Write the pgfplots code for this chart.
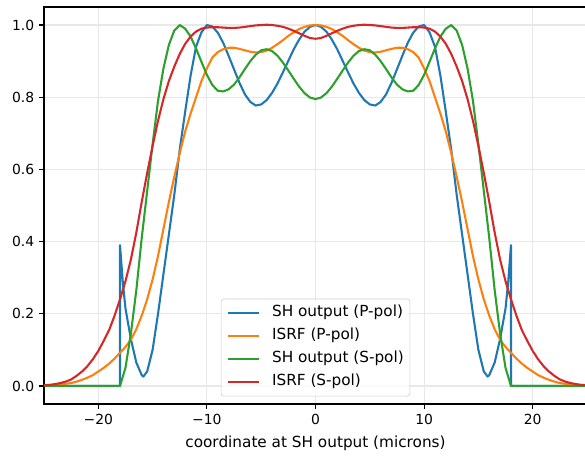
\documentclass[border=0pt]{standalone}
\usepackage{fontspec}
\setmainfont{DejaVu Sans}
\usepackage{pgfplots}
\pgfplotsset{compat=1.18}
\definecolor{tabblue}{HTML}{1F77B4}
\definecolor{taborange}{HTML}{FF7F0E}
\definecolor{tabgreen}{HTML}{2CA02C}
\definecolor{tabred}{HTML}{D62728}
\definecolor{gridgray}{HTML}{E8E8E8}
\definecolor{leggray}{HTML}{CCCCCC}
\begin{document}
\begin{tikzpicture}
\begin{axis}[
  at={(0,0)}, anchor=south west,
  scale only axis, width=390.96pt, height=285.84pt,
  xmin=-25, xmax=25, ymin=-0.05, ymax=1.05,
  xtick={-20,-10,0,10,20}, xticklabels={−20,−10,0,10,20},
  ytick={0,0.2,0.4,0.6,0.8,1.0}, yticklabels={0.0,0.2,0.4,0.6,0.8,1.0},
  tick align=outside, tick pos=left, major tick length=3.5pt,
  every tick/.style={black, line width=0.8pt},
  axis line style={line width=0.8pt},
  grid=major, major grid style={gridgray, line width=0.8pt},
  ticklabel style={font=\fontsize{10}{12}\selectfont},
  xlabel={coordinate at SH output (microns)},
  label style={font=\fontsize{11}{13}\selectfont},
  xlabel style={yshift=-1.5pt},
  legend cell align=left,
  legend style={at={(0.5,0)}, anchor=south, yshift=5.5pt,
    draw=leggray, rounded corners=2pt, fill=white, fill opacity=0.8, text opacity=1,
    font=\fontsize{11}{13}\selectfont, inner xsep=4.4pt, inner ysep=4.8pt,
    nodes={inner sep=0pt, text height=8pt, text depth=2.5pt},
    row sep=6.1pt, /tikz/every odd column/.append style={column sep=8.8pt}},
  legend image code/.code={\draw[#1, line width=1.5pt] (0pt,0pt) -- (22pt,0pt);},
  every axis plot/.append style={line width=1.5pt, line join=round},
]
\addplot[tabblue] coordinates {
(-25,0) (-18,0) (-18,0.39) (-17.75,0.29) (-17.5,0.215) (-17,0.13) (-16.5,0.065) (-16,0.03) (-15.85,0.026) (-15.5,0.04) (-15,0.1) (-14.5,0.2) (-14,0.31) (-13.5,0.42) (-13,0.53) (-12.5,0.655) (-12,0.76) (-11.5,0.86) (-11,0.94) (-10.5,0.98) (-10,1.0) (-9.5,0.996) (-9,0.979) (-8.5,0.951) (-8,0.915) (-7.5,0.877) (-7,0.84) (-6.5,0.808) (-6,0.787) (-5.5,0.777) (-5,0.78) (-4.5,0.792) (-4,0.812) (-3.5,0.838) (-3,0.869) (-2.5,0.901) (-2,0.933) (-1.5,0.96) (-1,0.982) (-0.5,0.995)
(0,1.0)
(0.5,0.995) (1,0.982) (1.5,0.96) (2,0.933) (2.5,0.901) (3,0.869) (3.5,0.838) (4,0.812) (4.5,0.792) (5,0.78) (5.5,0.777) (6,0.787) (6.5,0.808) (7,0.84) (7.5,0.877) (8,0.915) (8.5,0.951) (9,0.979) (9.5,0.996) (10,1.0) (10.5,0.98) (11,0.94) (11.5,0.86) (12,0.76) (12.5,0.655) (13,0.53) (13.5,0.42) (14,0.31) (14.5,0.2) (15,0.1) (15.5,0.04) (15.85,0.026) (16,0.03) (16.5,0.065) (17,0.13) (17.5,0.215) (17.75,0.29) (18,0.39) (18,0) (25,0)
};
\addlegendentry{SH output (P-pol)}
\addplot[taborange] coordinates {
(-25,0.001) (-24.5,0.002) (-24,0.003) (-23.5,0.004) (-23,0.006) (-22.5,0.008) (-22,0.012) (-21.5,0.017) (-21,0.023) (-20.5,0.03) (-20,0.04) (-19.5,0.05) (-19,0.062) (-18.5,0.076) (-18,0.092) (-17.5,0.108) (-17,0.128) (-16.5,0.157) (-16,0.195) (-15.5,0.24) (-15,0.295) (-14.5,0.36) (-14,0.435) (-13.5,0.51) (-13,0.58) (-12.5,0.645) (-12,0.705) (-11.5,0.755) (-11,0.8) (-10.5,0.845) (-10,0.88) (-9.5,0.91) (-9,0.925) (-8.5,0.933) (-8,0.937) (-7.5,0.937) (-7,0.934) (-6.5,0.93) (-6,0.926) (-5.5,0.924) (-5,0.925) (-4.5,0.929) (-4,0.937) (-3.5,0.947) (-3,0.958) (-2.5,0.97) (-2,0.98) (-1.5,0.989) (-1,0.995) (-0.5,0.999)
(0,1.0)
(0.5,0.999) (1,0.995) (1.5,0.989) (2,0.98) (2.5,0.97) (3,0.958) (3.5,0.947) (4,0.937) (4.5,0.929) (5,0.925) (5.5,0.924) (6,0.926) (6.5,0.93) (7,0.934) (7.5,0.937) (8,0.937) (8.5,0.933) (9,0.925) (9.5,0.91) (10,0.88) (10.5,0.845) (11,0.8) (11.5,0.755) (12,0.705) (12.5,0.645) (13,0.58) (13.5,0.51) (14,0.435) (14.5,0.36) (15,0.295) (15.5,0.24) (16,0.195) (16.5,0.157) (17,0.128) (17.5,0.108) (18,0.092) (18.5,0.076) (19,0.062) (19.5,0.05) (20,0.04) (20.5,0.03) (21,0.023) (21.5,0.017) (22,0.012) (22.5,0.008) (23,0.006) (23.5,0.004) (24,0.003) (24.5,0.002) (25,0.001)
};
\addlegendentry{ISRF (P-pol)}
\addplot[tabgreen] coordinates {
(-25,0) (-18,0) (-17.5,0.05) (-17,0.145) (-16.5,0.265) (-16,0.41) (-15.5,0.54) (-15,0.67) (-14.5,0.79) (-14,0.88) (-13.5,0.945) (-13,0.985) (-12.5,1.0) (-12,0.99) (-11.5,0.968) (-11,0.935) (-10.5,0.898) (-10,0.862) (-9.5,0.834) (-9,0.818) (-8.5,0.816) (-8,0.822) (-7.5,0.835) (-7,0.855) (-6.5,0.878) (-6,0.9) (-5.5,0.918) (-5,0.93) (-4.5,0.933) (-4,0.928) (-3.5,0.915) (-3,0.896) (-2.5,0.874) (-2,0.851) (-1.5,0.829) (-1,0.811) (-0.5,0.799)
(0,0.795)
(0.5,0.799) (1,0.811) (1.5,0.829) (2,0.851) (2.5,0.874) (3,0.896) (3.5,0.915) (4,0.928) (4.5,0.933) (5,0.93) (5.5,0.918) (6,0.9) (6.5,0.878) (7,0.855) (7.5,0.835) (8,0.822) (8.5,0.816) (9,0.818) (9.5,0.834) (10,0.862) (10.5,0.898) (11,0.935) (11.5,0.968) (12,0.99) (12.5,1.0) (13,0.985) (13.5,0.945) (14,0.88) (14.5,0.79) (15,0.67) (15.5,0.54) (16,0.41) (16.5,0.265) (17,0.145) (17.5,0.05) (18,0) (25,0)
};
\addlegendentry{SH output (S-pol)}
\addplot[tabred] coordinates {
(-25,0.002) (-24.5,0.003) (-24,0.005) (-23.5,0.008) (-23,0.012) (-22.5,0.018) (-22,0.028) (-21.5,0.04) (-21,0.055) (-20.5,0.074) (-20,0.097) (-19.5,0.125) (-19,0.155) (-18.5,0.195) (-18,0.24) (-17.5,0.29) (-17,0.35) (-16.5,0.425) (-16,0.51) (-15.5,0.59) (-15,0.665) (-14.5,0.735) (-14,0.795) (-13.5,0.845) (-13,0.885) (-12.5,0.92) (-12,0.948) (-11.5,0.968) (-11,0.982) (-10.5,0.99) (-10,0.993) (-9.5,0.994) (-9,0.994) (-8.5,0.993) (-8,0.992) (-7.5,0.992) (-7,0.993) (-6.5,0.995) (-6,0.997) (-5.5,0.999) (-5,1.0) (-4.5,1.001) (-4,1.0) (-3.5,0.998) (-3,0.995) (-2.5,0.99) (-2,0.984) (-1.5,0.977) (-1,0.97) (-0.5,0.964)
(0,0.962)
(0.5,0.964) (1,0.97) (1.5,0.977) (2,0.984) (2.5,0.99) (3,0.995) (3.5,0.998) (4,1.0) (4.5,1.001) (5,1.0) (5.5,0.999) (6,0.997) (6.5,0.995) (7,0.993) (7.5,0.992) (8,0.992) (8.5,0.993) (9,0.994) (9.5,0.994) (10,0.993) (10.5,0.99) (11,0.982) (11.5,0.968) (12,0.948) (12.5,0.92) (13,0.885) (13.5,0.845) (14,0.795) (14.5,0.735) (15,0.665) (15.5,0.59) (16,0.51) (16.5,0.425) (17,0.35) (17.5,0.29) (18,0.24) (18.5,0.195) (19,0.155) (19.5,0.125) (20,0.097) (20.5,0.074) (21,0.055) (21.5,0.04) (22,0.028) (22.5,0.018) (23,0.012) (23.5,0.008) (24,0.005) (24.5,0.003) (25,0.002)
};
\addlegendentry{ISRF (S-pol)}
\end{axis}
\pgfresetboundingbox
\path[use as bounding box] (-31.68pt,-36.72pt) rectangle (389.52pt,290.88pt);
\end{tikzpicture}
\end{document}
